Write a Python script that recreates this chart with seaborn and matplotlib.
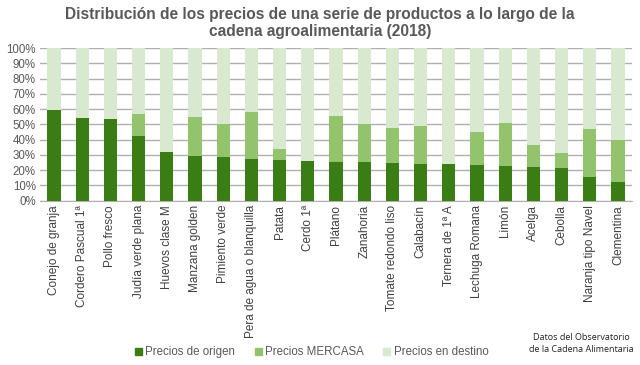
import numpy as np
import pandas as pd
import matplotlib
matplotlib.use("Agg")
import matplotlib.pyplot as plt
import seaborn as sns
from matplotlib.patches import Patch

# -------------------------------
# Datos
# -------------------------------
productos = ["Conejo de granja", "Cordero Pascual 1ª", "Pollo fresco", "Judía verde plana",
             "Huevos clase M", "Manzana golden", "Pimiento verde", "Pera de agua o blanquilla",
             "Patata", "Cerdo 1ª", "Plátano", "Zanahoria", "Tomate redondo liso", "Calabacín",
             "Ternera de 1ª A", "Lechuga Romana", "Limón", "Acelga", "Cebolla",
             "Naranja tipo Navel", "Clementina"]
# % precio de origen
origen = [59.5, 54.5, 53.6, 42.5, 32.0, 29.5, 28.4, 27.4, 26.7, 25.8, 25.4, 25.2, 25.0, 24.3,
          23.9, 23.6, 22.5, 22.1, 21.7, 15.5, 12.3]
# % acumulado hasta MERCASA (0 = sin dato)
mercasa = [0, 0, 0, 57.0, 0, 54.7, 50.0, 58.4, 33.9, 0, 55.6, 50.3, 47.9, 49.2,
           0, 45.0, 51.0, 36.3, 31.3, 47.0, 39.8]
destino = [100] * len(productos)

c_origen = "#3b7d15"
c_mercasa = "#93c46d"
c_destino = "#d8e9d0"
gris = "#595959"

df = pd.DataFrame({"producto": productos, "origen": origen,
                   "mercasa": mercasa, "destino": destino})

plt.rcParams["font.family"] = ["Liberation Sans", "DejaVu Sans"]

fig = plt.figure(figsize=(6.4, 3.65), dpi=100)
ax = fig.add_axes([0.0625, 0.45, 0.925, 0.418])

sns.barplot(data=df, x="producto", y="destino", color=c_destino, width=0.47,
            saturation=1, ax=ax, zorder=2)
sns.barplot(data=df, x="producto", y="mercasa", color=c_mercasa, width=0.47,
            saturation=1, ax=ax, zorder=3)
sns.barplot(data=df, x="producto", y="origen", color=c_origen, width=0.47,
            saturation=1, ax=ax, zorder=4)

ax.set_ylim(0, 100)
ax.set_xlim(-0.5, len(productos) - 0.5)
ax.set_yticks(range(0, 101, 10))
ax.set_yticklabels([f"{v}%" for v in range(0, 101, 10)], fontsize=8.3, color=gris)
ax.set_xticks(range(len(productos)))
ax.set_xticklabels(productos, rotation=90, fontsize=8.5, color="#404040")
ax.set_xlabel("")
ax.set_ylabel("")
ax.yaxis.grid(True, color="#b0b0b0", linewidth=1, zorder=0)
ax.set_axisbelow(True)
ax.tick_params(length=0, pad=3)
for s in ["top", "right", "left"]:
    ax.spines[s].set_visible(False)
ax.spines["bottom"].set_color("#b0b0b0")

fig.suptitle("Distribución de los precios de una serie de productos a lo largo de la\n"
             "cadena agroalimentaria (2018)", x=0.5, y=0.98, fontsize=11.2,
             fontweight="bold", color=gris, linespacing=1.15)

handles = [Patch(color=c_origen, label="Precios de origen"),
           Patch(color=c_mercasa, label="Precios MERCASA"),
           Patch(color=c_destino, label="Precios en destino")]
fig.legend(handles=handles, loc="center", bbox_to_anchor=(0.487, 0.035), ncol=3,
           frameon=False, fontsize=8.3, handlelength=0.6, handleheight=0.6,
           columnspacing=1.7, handletextpad=0.3, labelcolor=gris)

fig.text(0.908, 0.058, "Datos del Observatorio\nde la Cadena Alimentaria", ha="center",
         va="center", fontsize=6.5, color="#222222", family=["Open Sans", "DejaVu Sans"],
         linespacing=1.4)

fig.savefig("out.png", dpi=100)
